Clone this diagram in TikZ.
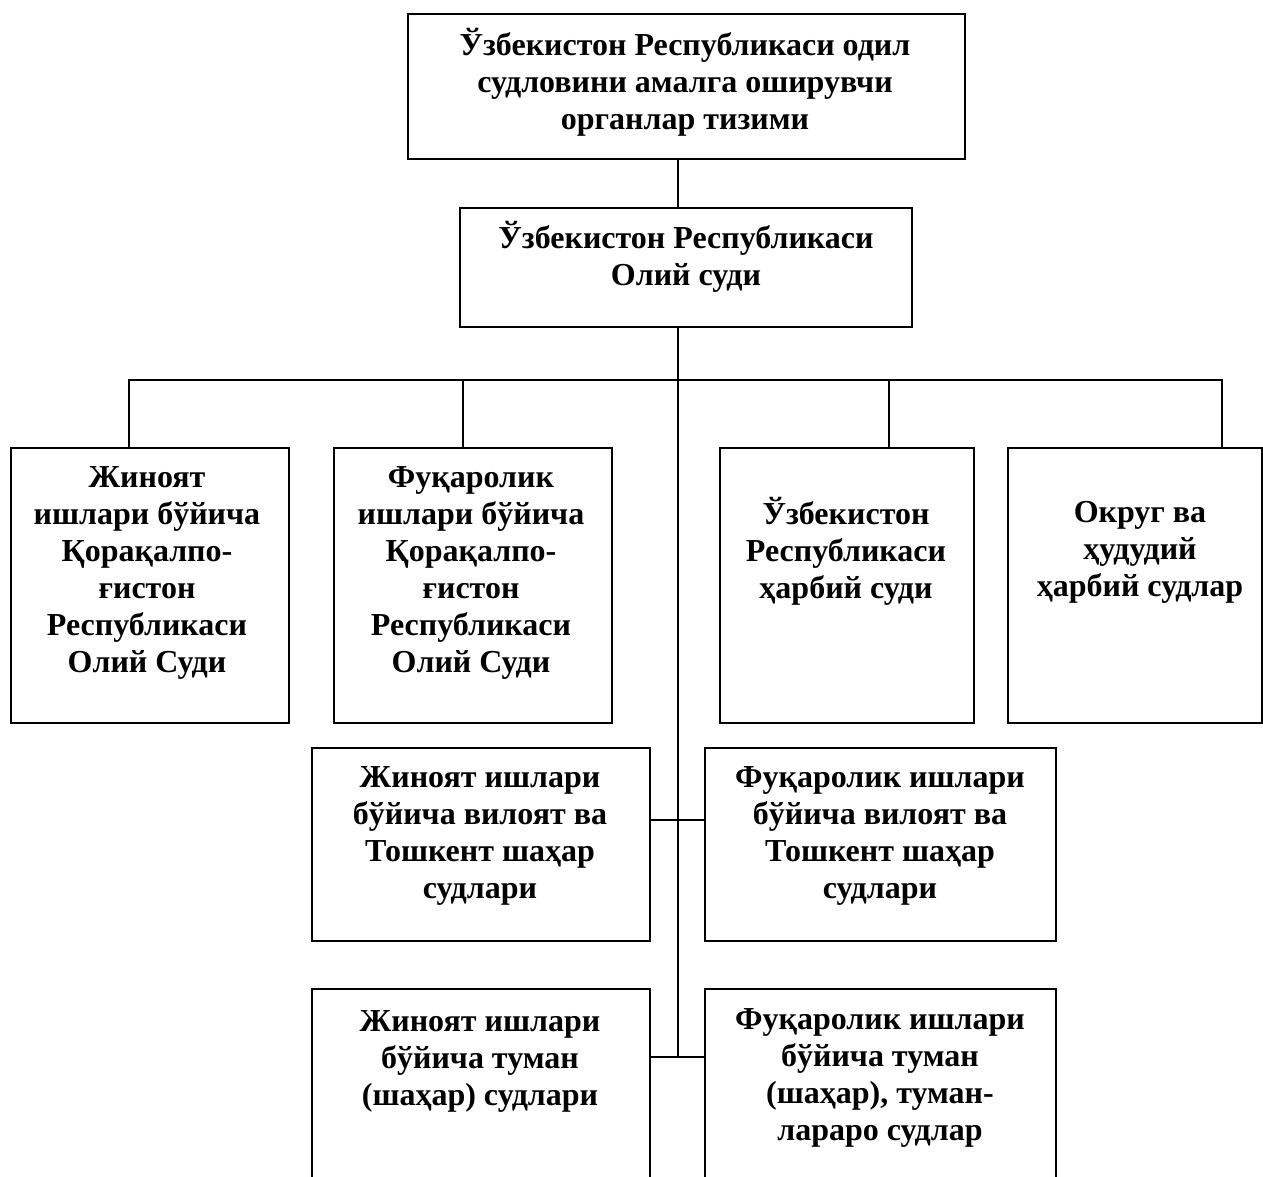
\documentclass[tikz,border=0pt]{standalone}
\usepackage{fontspec}
\setmainfont{Liberation Serif}
\begin{document}
\begin{tikzpicture}[x=1pt,y=-1pt,
  box/.style={draw,line width=1.5pt,anchor=north west,inner sep=0pt},
  lbl/.style={align=center,font=\bfseries\fontsize{32}{37}\selectfont,inner sep=0pt},
  conn/.style={line width=1.5pt}]
\useasboundingbox (0,0) rectangle (1263,1176);
% boxes
\node[box,minimum width=557pt,minimum height=145pt] (top) at (407,13) {};
\node[box,minimum width=452pt,minimum height=119pt] (olii) at (459,207) {};
\node[box,minimum width=278pt,minimum height=275pt] (b1) at (10,447) {};
\node[box,minimum width=278pt,minimum height=275pt] (b2) at (333,447) {};
\node[box,minimum width=254pt,minimum height=275pt] (b3) at (719,447) {};
\node[box,minimum width=254pt,minimum height=275pt] (b4) at (1007,447) {};
\node[box,minimum width=338pt,minimum height=193pt] (r3l) at (311,747) {};
\node[box,minimum width=351pt,minimum height=193pt] (r3r) at (704,747) {};
\node[box,minimum width=338pt,minimum height=200pt] (r4l) at (311,988) {};
\node[box,minimum width=351pt,minimum height=200pt] (r4r) at (704,988) {};
% labels
\node[lbl] (ttop) at (685,82) {Ўзбекистон Республикаси одил\\судловини амалга оширувчи\\органлар тизими};
\node[lbl] (tolii) at (686,257) {Ўзбекистон Республикаси\\Олий суди};
\node[lbl] (tb1) at (147,573) {Жиноят\\ишлари бўйича\\Қорақалпо-\\ғистон\\Республикаси\\Олий Суди};
\node[lbl] (tb2) at (471,573) {Фуқаролик\\ишлари бўйича\\Қорақалпо-\\ғистон\\Республикаси\\Олий Суди};
\node[lbl] (tb3) at (846,551) {Ўзбекистон\\Республикаси\\ҳарбий суди};
\node[lbl] (tb4) at (1140,552) {Округ ва\\ҳудудий\\ҳарбий судлар};
\node[lbl] (tr3l) at (480,836) {Жиноят ишлари\\бўйича вилоят ва\\Тошкент шаҳар\\судлари};
\node[lbl] (tr3r) at (880,836) {Фуқаролик ишлари\\бўйича вилоят ва\\Тошкент шаҳар\\судлари};
\node[lbl] (tr4l) at (480,1061) {Жиноят ишлари\\бўйича туман\\(шаҳар) судлари};
\node[lbl] (tr4r) at (880,1078) {Фуқаролик ишлари\\бўйича туман\\(шаҳар), туман-\\лараро судлар};
% connector helpers
\coordinate (trunk) at (678,0);
\coordinate (bus) at (678,380);
\coordinate (j3) at (678,820);
\coordinate (j4) at (678,1057);
\coordinate (d1) at (129,0);
\coordinate (d2) at (463,0);
\coordinate (d3) at (889,0);
\coordinate (d4) at (1222,0);
% connectors
\draw[conn] (top.south -| trunk) -- (olii.north -| trunk);
\draw[conn] (olii.south -| trunk) -- (j4);
\draw[conn] (b1.north -| d1) -- (bus -| d1) -- (bus -| d4) -- (b4.north -| d4);
\draw[conn] (b2.north -| d2) -- (bus -| d2);
\draw[conn] (b3.north -| d3) -- (bus -| d3);
\draw[conn] (r3l.east |- j3) -- (r3r.west |- j3);
\draw[conn] (r4l.east |- j4) -- (r4r.west |- j4);
\end{tikzpicture}
\end{document}
